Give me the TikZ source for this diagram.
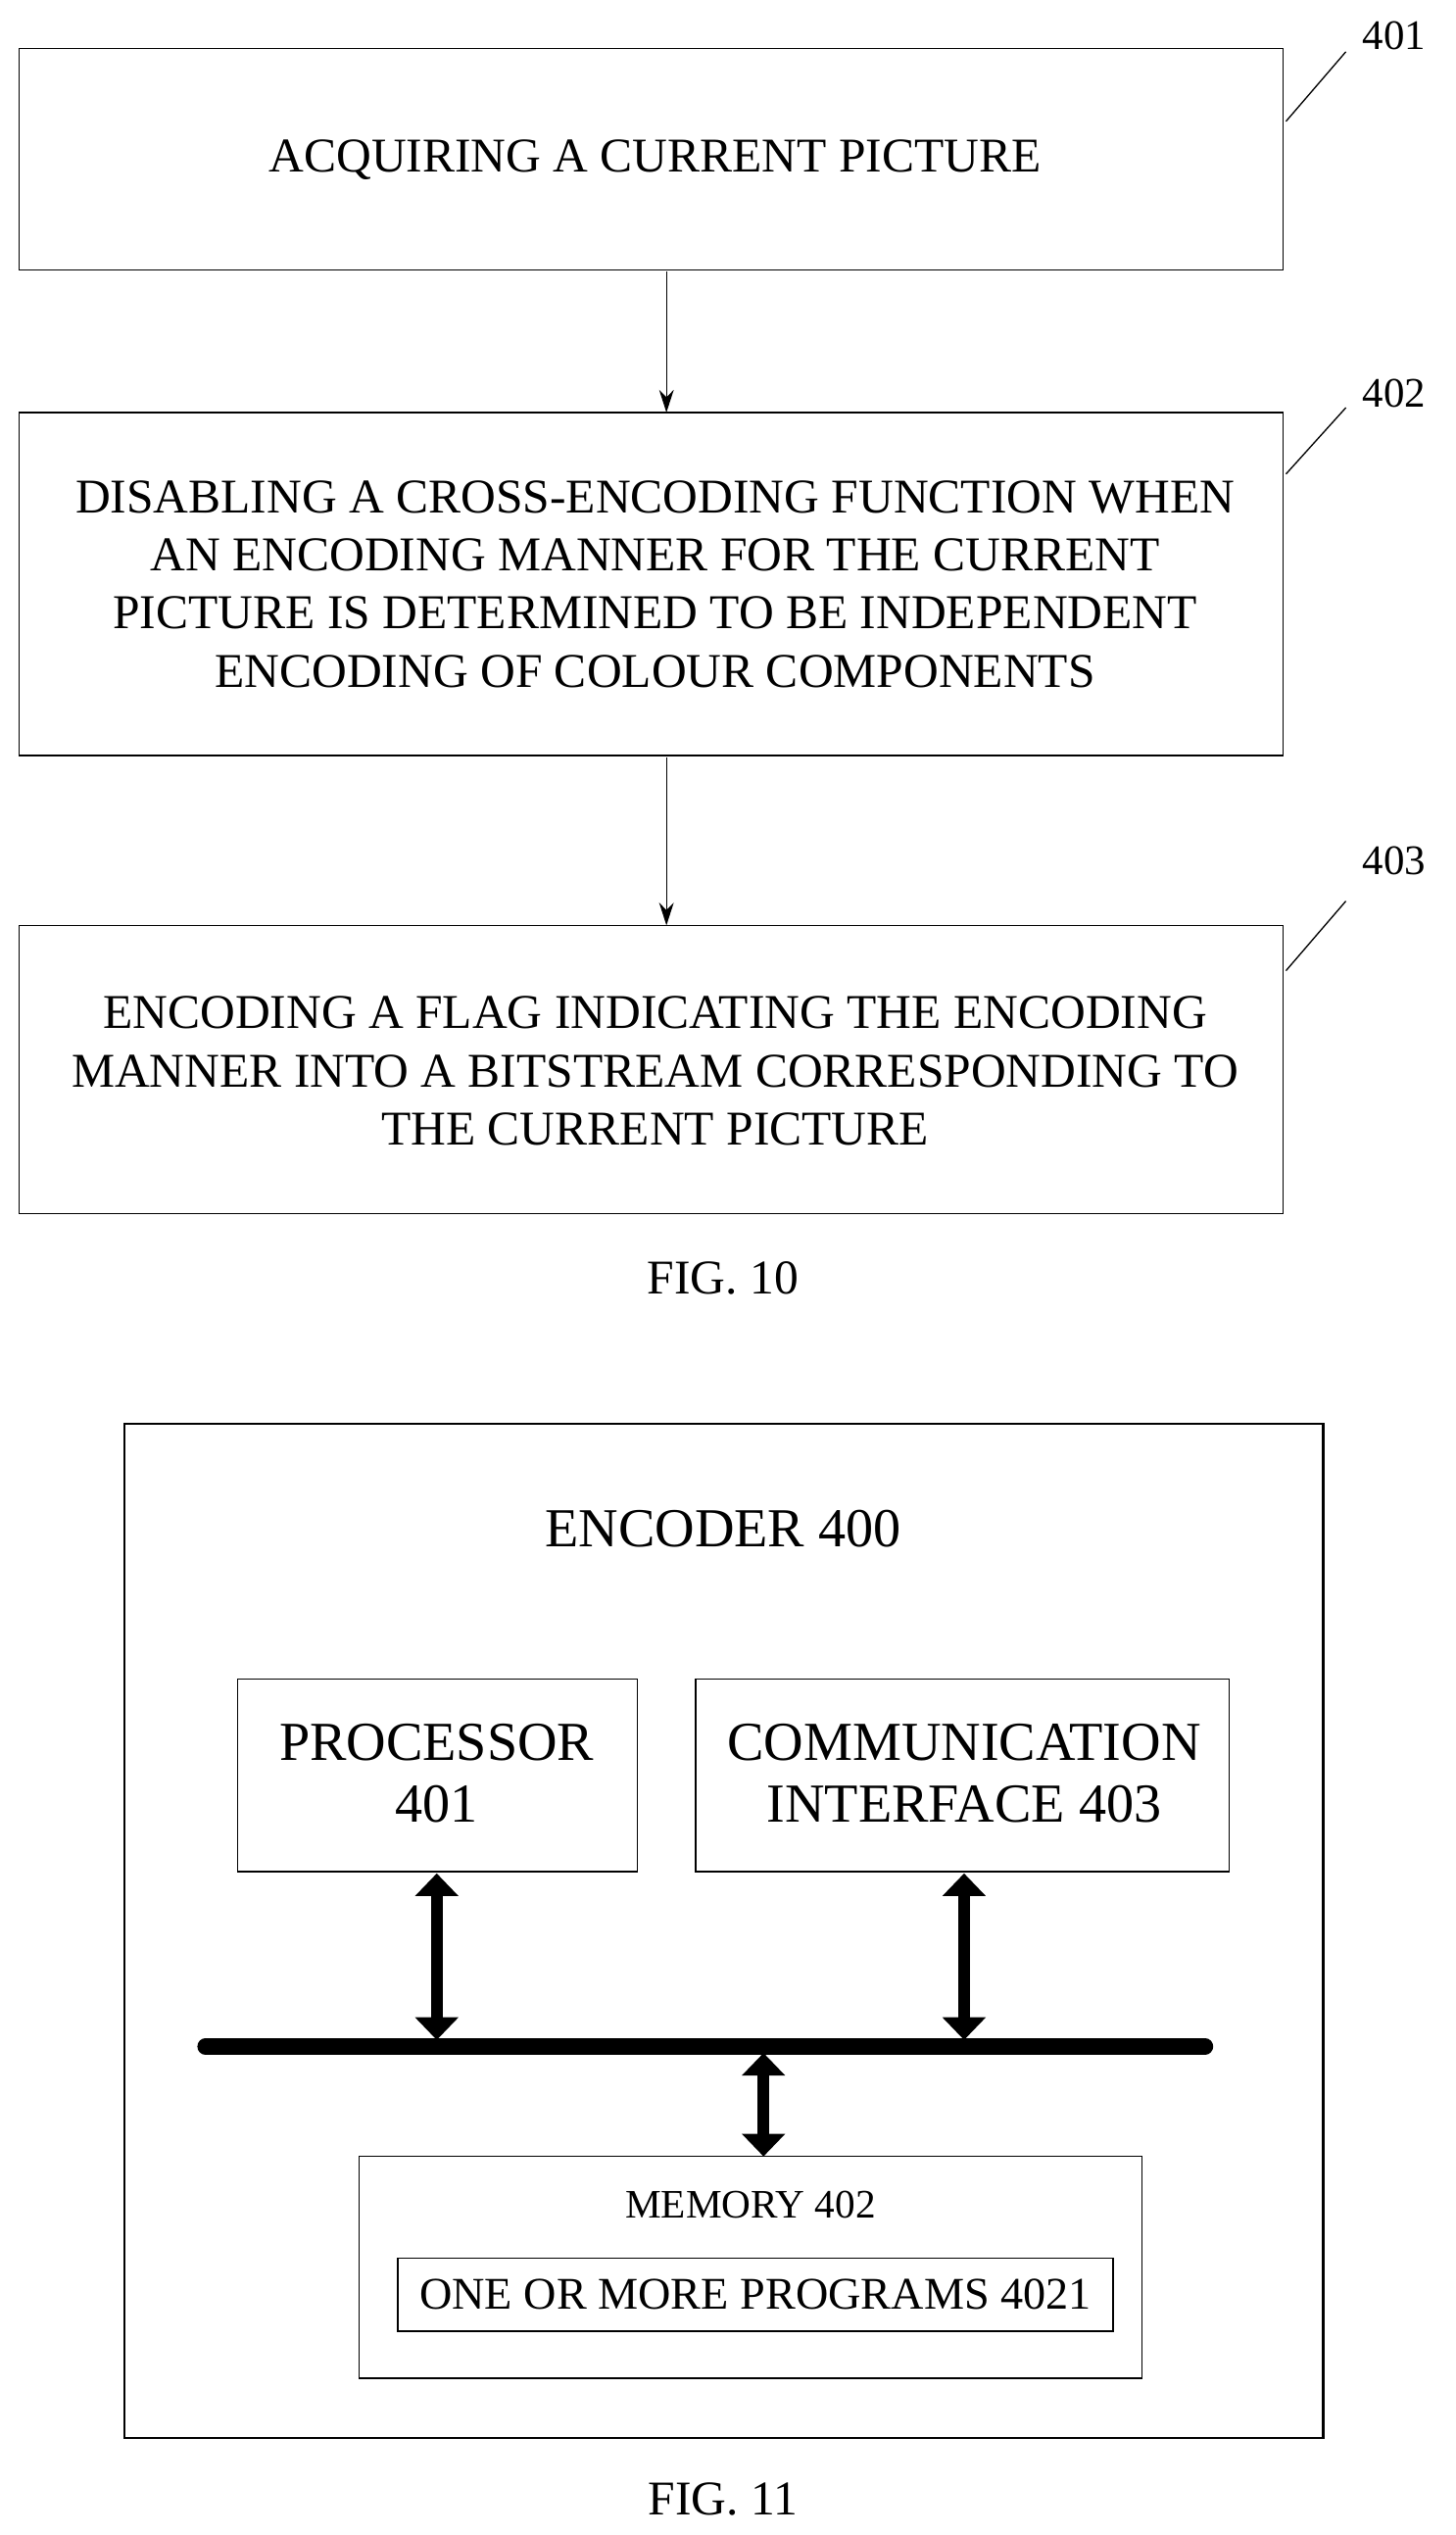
\documentclass[tikz,border=0pt]{standalone}
\usepackage{fontspec}
\setmainfont{Liberation Serif}
\usetikzlibrary{arrows.meta}
\begin{document}
\begin{tikzpicture}[x=1pt,y=-1pt,
  box/.style={draw,line width=0.8pt,inner sep=0pt},
  txt/.style={font=\fontsize{30}{36}\selectfont,align=center},
  thin/.style={-{Stealth[length=14pt,width=9pt]},line width=0.8pt},
  fat/.style={{Triangle[length=14pt,width=26pt]}-{Triangle[length=14pt,width=26pt]},line width=7pt}]
\useasboundingbox (0,0) rectangle (900,1567);
\draw[box] (12,30) rectangle (793,167);
\node[txt] (t1) at (405,99) {ACQUIRING A CURRENT PICTURE};
\draw[box] (12,255) rectangle (793,467);
\node[txt] (t2) at (405,361) {DISABLING A CROSS-ENCODING FUNCTION WHEN\\AN ENCODING MANNER FOR THE CURRENT\\PICTURE IS DETERMINED TO BE INDEPENDENT\\ENCODING OF COLOUR COMPONENTS};
\draw[box] (12,572) rectangle (793,750);
\node[txt] (t3) at (405,662) {ENCODING A FLAG INDICATING THE ENCODING\\MANNER INTO A BITSTREAM CORRESPONDING TO\\THE CURRENT PICTURE};
\coordinate (a1) at (412,168); \coordinate (b1) at (412,255);
\coordinate (a2) at (412,468); \coordinate (b2) at (412,572);
\draw[thin] (a1) -- (b1);
\draw[thin] (a2) -- (b2);
\node[txt,font=\fontsize{26}{36}\selectfont] (l1) at (862,22) {401};
\node[txt,font=\fontsize{26}{36}\selectfont] (l2) at (862,243) {402};
\node[txt,font=\fontsize{26}{36}\selectfont] (l3) at (862,532) {403};
\draw[line width=0.8pt] (795,75) -- (832,32);
\draw[line width=0.8pt] (795,293) -- (832,252);
\draw[line width=0.8pt] (795,600) -- (832,557);
\node[txt] (f10) at (447,790) {FIG. 10};
\draw[line width=1.5pt] (77,880) rectangle (818,1507);
\node[txt,font=\fontsize{34}{36}\selectfont] (enc) at (447,945) {ENCODER 400};
\draw[box] (147,1038) rectangle (394,1157);
\node[txt,font=\fontsize{34}{38}\selectfont] (p) at (270,1096) {PROCESSOR\\401};
\draw[box] (430,1038) rectangle (760,1157);
\node[txt,font=\fontsize{34}{38}\selectfont] (c) at (596,1096) {COMMUNICATION\\INTERFACE 403};
\draw[line width=10pt,line cap=round] (127,1265) -- (745,1265);
\draw[fat] (270,1158) -- (270,1261);
\draw[fat] (596,1158) -- (596,1261);
\draw[fat] (472,1269) -- (472,1333);
\draw[box] (222,1333) rectangle (706,1470);
\node[txt,font=\fontsize{25}{36}\selectfont] (m) at (464,1363) {MEMORY 402};
\draw[box] (246,1396) rectangle (688,1441);
\node[txt,font=\fontsize{28}{36}\selectfont] (pr) at (467,1418) {ONE OR MORE PROGRAMS 4021};
\node[txt] (f11) at (447,1545) {FIG. 11};
\end{tikzpicture}
\end{document}
